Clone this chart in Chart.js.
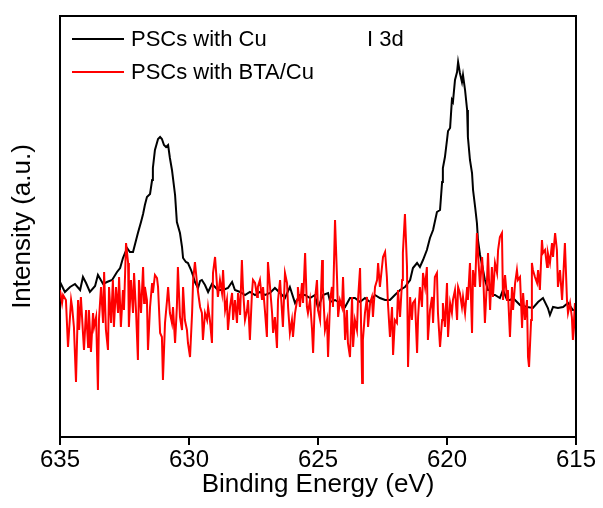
<!DOCTYPE html>
<html>
<head>
<meta charset="utf-8">
<script src="https://cdn.jsdelivr.net/npm/chart.js@4.4.1/dist/chart.umd.min.js"></script>
<style>
  html, body { margin: 0; padding: 0; background: #fff; }
  #xpsChart { display: block; }
</style>
</head>
<body>
<canvas id="xpsChart" width="603" height="508"></canvas>
<script>
// Cu 2p XPS spectra, two samples

const X_TICKS = [635, 630, 625, 620, 615];
const PEAK_NOTE = 'I 3d';

const SERIES_LABELS = ['PSCs with Cu', 'PSCs with BTA/Cu'];

const blackEnergy = [
    635.00, 634.81, 634.61, 634.42, 634.22, 634.11, 633.99, 633.84, 633.64, 633.53,
    633.33, 633.18, 632.98, 632.79, 632.67, 632.56, 632.40, 632.29, 632.17, 632.05,
    631.98, 631.86, 631.78, 631.71, 631.63, 631.51, 631.43, 631.40, 631.32, 631.20,
    631.12, 631.05, 630.97, 630.89, 630.81, 630.74, 630.66, 630.54, 630.47, 630.35,
    630.27, 630.23, 630.12, 630.04, 629.92, 629.84, 629.77, 629.65, 629.57, 629.50,
    629.38, 629.26, 629.11, 628.99, 628.88, 628.68, 628.49, 628.33, 628.22, 628.02,
    627.83, 627.64, 627.44, 627.25, 627.05, 626.86, 626.67, 626.47, 626.28, 626.09,
    625.89, 625.70, 625.50, 625.31, 625.12, 625.00, 624.81, 624.61, 624.53, 624.34,
    624.15, 623.95, 623.76, 623.57, 623.37, 623.18, 622.98, 622.79, 622.60, 622.40,
    622.21, 622.02, 621.82, 621.63, 621.43, 621.32, 621.16, 621.05, 620.93, 620.78,
    620.66, 620.54, 620.39, 620.27, 620.19, 620.16, 620.08, 620.00, 619.96, 619.88,
    619.81, 619.77, 619.69, 619.61, 619.57, 619.50, 619.42, 619.38, 619.30, 619.22,
    619.19, 619.11, 619.03, 618.99, 618.91, 618.84, 618.80, 618.72, 618.64, 618.53,
    618.41, 618.33, 618.22, 618.14, 617.95, 617.83, 617.67, 617.56, 617.44, 617.17,
    616.90, 616.67, 616.47, 616.28, 616.09, 616.01, 615.89, 615.70, 615.50, 615.31,
    615.12, 615.00
];
const blackIntensity = [
    155, 145, 150, 153, 147, 160, 154, 145, 151, 162,
    153, 155, 157, 165, 169, 179, 189, 185, 185, 197,
    204, 215, 223, 232, 240, 243, 257, 269, 287, 298,
    300, 298, 292, 290, 292, 279, 267, 242, 215, 204,
    190, 179, 175, 174, 167, 161, 155, 149, 156, 157,
    152, 145, 153, 150, 147, 147, 149, 155, 147, 145,
    142, 145, 142, 145, 142, 144, 149, 144, 139, 150,
    134, 142, 142, 139, 142, 129, 142, 144, 135, 137,
    134, 130, 139, 139, 135, 139, 135, 142, 139, 137,
    137, 142, 147, 150, 157, 169, 174, 170, 177, 187,
    199, 207, 225, 227, 255, 269, 280, 297, 306, 309,
    337, 335, 357, 365, 375, 364, 355, 362, 347, 327,
    300, 277, 264, 247, 230, 214, 197, 182, 172, 157,
    147, 147, 142, 142, 139, 147, 137, 137, 139, 132,
    130, 129, 135, 139, 129, 122, 130, 129, 130, 134,
    127, 127
];

const redEnergy = [
    635.00, 634.92, 634.88, 634.77, 634.69, 634.57, 634.53, 634.46, 634.38, 634.30,
    634.26, 634.19, 634.11, 634.07, 633.99, 633.91, 633.88, 633.80, 633.72, 633.68,
    633.60, 633.53, 633.49, 633.41, 633.33, 633.29, 633.22, 633.14, 633.10, 633.02,
    632.95, 632.91, 632.83, 632.75, 632.71, 632.64, 632.56, 632.52, 632.44, 632.36,
    632.33, 632.25, 632.17, 632.13, 632.05, 631.98, 631.94, 631.86, 631.78, 631.74,
    631.71, 631.63, 631.59, 631.51, 631.43, 631.40, 631.32, 631.24, 631.20, 631.12,
    631.05, 631.01, 630.93, 630.85, 630.81, 630.74, 630.66, 630.62, 630.54, 630.47,
    630.43, 630.35, 630.27, 630.23, 630.16, 630.08, 630.04, 629.96, 629.88, 629.84,
    629.77, 629.69, 629.65, 629.57, 629.50, 629.46, 629.38, 629.30, 629.26, 629.19,
    629.11, 629.07, 628.99, 628.91, 628.88, 628.80, 628.72, 628.68, 628.60, 628.53,
    628.49, 628.41, 628.33, 628.29, 628.22, 628.14, 628.10, 628.02, 627.95, 627.91,
    627.83, 627.75, 627.71, 627.64, 627.56, 627.52, 627.44, 627.36, 627.33, 627.25,
    627.17, 627.13, 627.05, 626.98, 626.94, 626.86, 626.78, 626.74, 626.67, 626.59,
    626.55, 626.47, 626.40, 626.36, 626.28, 626.20, 626.16, 626.09, 626.01, 625.97,
    625.89, 625.81, 625.78, 625.70, 625.62, 625.58, 625.50, 625.43, 625.39, 625.31,
    625.23, 625.19, 625.12, 625.04, 625.00, 624.92, 624.84, 624.81, 624.73, 624.65,
    624.61, 624.53, 624.46, 624.42, 624.34, 624.26, 624.22, 624.15, 624.07, 624.03,
    623.95, 623.88, 623.84, 623.76, 623.68, 623.64, 623.57, 623.49, 623.45, 623.37,
    623.29, 623.26, 623.18, 623.10, 623.06, 622.98, 622.91, 622.87, 622.79, 622.71,
    622.67, 622.60, 622.52, 622.48, 622.40, 622.33, 622.29, 622.21, 622.13, 622.09,
    622.02, 621.94, 621.90, 621.82, 621.74, 621.71, 621.63, 621.55, 621.51, 621.43,
    621.36, 621.32, 621.24, 621.16, 621.12, 621.05, 620.97, 620.93, 620.85, 620.78,
    620.74, 620.66, 620.58, 620.54, 620.47, 620.39, 620.35, 620.27, 620.19, 620.16,
    620.08, 620.00, 619.96, 619.88, 619.81, 619.77, 619.69, 619.61, 619.57, 619.50,
    619.42, 619.38, 619.30, 619.22, 619.19, 619.11, 619.03, 618.99, 618.91, 618.84,
    618.80, 618.72, 618.64, 618.60, 618.53, 618.45, 618.41, 618.33, 618.26, 618.22,
    618.14, 618.06, 618.02, 617.95, 617.87, 617.83, 617.75, 617.67, 617.64, 617.56,
    617.48, 617.44, 617.36, 617.29, 617.25, 617.17, 617.09, 617.05, 616.98, 616.90,
    616.86, 616.82, 616.74, 616.71, 616.67, 616.59, 616.51, 616.47, 616.40, 616.32,
    616.28, 616.20, 616.12, 616.09, 616.01, 615.93, 615.89, 615.81, 615.74, 615.70,
    615.62, 615.54, 615.50, 615.43, 615.35, 615.31, 615.23, 615.16, 615.12, 615.04,
    615.00
];
const redIntensity = [
    147, 134, 142, 137, 90, 137, 130, 110, 55, 137,
    107, 140, 104, 87, 127, 90, 127, 85, 124, 110,
    120, 47, 117, 150, 114, 165, 107, 87, 150, 114,
    157, 110, 150, 124, 160, 110, 147, 127, 194, 174,
    110, 157, 124, 164, 124, 77, 157, 124, 170, 134,
    150, 137, 87, 130, 154, 144, 162, 159, 150, 104,
    100, 57, 114, 137, 150, 124, 114, 130, 94, 130,
    170, 120, 107, 150, 117, 107, 94, 80, 124, 157,
    175, 154, 145, 130, 124, 97, 124, 117, 130, 117,
    94, 164, 180, 150, 140, 157, 144, 167, 127, 137,
    107, 130, 144, 117, 137, 114, 144, 122, 177, 150,
    117, 127, 137, 97, 144, 157, 154, 140, 150, 157,
    137, 150, 124, 100, 175, 150, 124, 104, 120, 89,
    137, 157, 127, 110, 164, 154, 130, 104, 117, 100,
    124, 137, 150, 130, 154, 134, 184, 130, 124, 137,
    107, 84, 137, 157, 127, 117, 177, 150, 107, 117,
    80, 137, 150, 130, 217, 157, 120, 137, 130, 160,
    97, 127, 94, 80, 140, 90, 117, 107, 137, 169,
    54, 97, 124, 140, 110, 134, 140, 120, 150, 157,
    174, 150, 170, 180, 185, 160, 134, 100, 130, 82,
    117, 114, 147, 120, 157, 184, 223, 170, 70, 140,
    117, 134, 137, 84, 120, 150, 130, 164, 150, 170,
    97, 127, 140, 114, 160, 164, 124, 90, 117, 134,
    110, 154, 100, 134, 124, 137, 147, 117, 150, 144,
    130, 140, 124, 150, 137, 174, 104, 167, 150, 204,
    184, 150, 180, 164, 114, 157, 184, 127, 170, 140,
    174, 164, 187, 200, 204, 137, 162, 137, 147, 100,
    150, 127, 154, 167, 157, 160, 109, 144, 117, 137,
    80, 70, 117, 174, 167, 160, 154, 167, 147, 197,
    184, 187, 170, 184, 174, 194, 180, 204, 187, 150,
    167, 137, 157, 194, 137, 124, 134, 120, 97, 134,
    94
];

const SERIES_COLOURS = ['#000000', '#ff0000'];
const FONT = "'Liberation Sans', Arial, sans-serif";

function toPoints(xs, ys) {
    return xs.map((x, i) => ({ x: x, y: ys[i] }));
}

// box + legend + note drawn over the plot
const frameLegendPlugin = {
    id: 'frameLegend',
    afterDatasetsDraw(chart) {
        const { ctx, chartArea } = chart;
        const { left, top, right, bottom } = chartArea;
        ctx.save();
        ctx.strokeStyle = '#000';
        ctx.lineWidth = 2;
        ctx.beginPath();
        ctx.moveTo(left - 1, top);
        ctx.lineTo(right, top);
        ctx.lineTo(right, bottom + 1);
        ctx.stroke();

        ctx.font = '22px ' + FONT;
        ctx.textBaseline = 'middle';
        ctx.textAlign = 'left';
        chart.data.datasets.forEach((ds, i) => {
            const y = top + 23 + i * 33;
            ctx.strokeStyle = ds.borderColor;
            ctx.lineWidth = 2;
            ctx.beginPath();
            ctx.moveTo(left + 12, y);
            ctx.lineTo(left + 64, y);
            ctx.stroke();
            ctx.fillStyle = '#000';
            ctx.fillText(ds.label, left + 71, y + 1);
        });
        ctx.fillText(PEAK_NOTE, left + 307, top + 24);
        ctx.restore();
    }
};

new Chart(document.getElementById('xpsChart'), {
    type: 'line',
    data: {
        datasets: [
            {
                label: SERIES_LABELS[0],
                data: toPoints(blackEnergy, blackIntensity),
                borderColor: SERIES_COLOURS[0],
                borderWidth: 2,
                pointRadius: 0,
                tension: 0,
                fill: false,
                order: 1
            },
            {
                label: SERIES_LABELS[1],
                data: toPoints(redEnergy, redIntensity),
                borderColor: SERIES_COLOURS[1],
                borderWidth: 2,
                pointRadius: 0,
                tension: 0,
                fill: false,
                order: 0
            }
        ]
    },
    options: {
        responsive: false,
        animation: false,
        devicePixelRatio: 1,
        layout: { padding: { left: 0, right: 27, top: 16, bottom: 0 } },
        plugins: {
            legend: { display: false },
            tooltip: { enabled: false }
        },
        scales: {
            x: {
                type: 'linear',
                reverse: true,
                min: 615,
                max: 635,
                afterBuildTicks: (scale) => {
                    scale.ticks = X_TICKS.map(v => ({ value: v }));
                },
                afterFit: (scale) => { scale.height = 71; },
                grid: {
                    drawOnChartArea: false,
                    drawTicks: true,
                    tickLength: 8,
                    color: '#000',
                    tickColor: '#000',
                    tickWidth: 2,
                    lineWidth: 2
                },
                border: { display: true, color: '#000', width: 2 },
                ticks: {
                    color: '#000',
                    padding: 1,
                    maxRotation: 0,
                    font: { family: FONT, size: 24 }
                },
                title: {
                    display: true,
                    text: 'Binding Energy (eV)',
                    color: '#000',
                    font: { family: FONT, size: 26 },
                    padding: { top: 0, bottom: 8 }
                }
            },
            y: {
                type: 'linear',
                min: 0,
                max: 421,
                afterFit: (scale) => { scale.width = 60; },
                grid: { display: false, drawTicks: false },
                border: { display: true, color: '#000', width: 2 },
                ticks: { display: false },
                title: {
                    display: true,
                    text: 'Intensity (a.u.)',
                    color: '#000',
                    font: { family: FONT, size: 26 },
                    padding: { top: 7, bottom: 0 }
                }
            }
        }
    },
    plugins: [frameLegendPlugin]
});
</script>
</body>
</html>
